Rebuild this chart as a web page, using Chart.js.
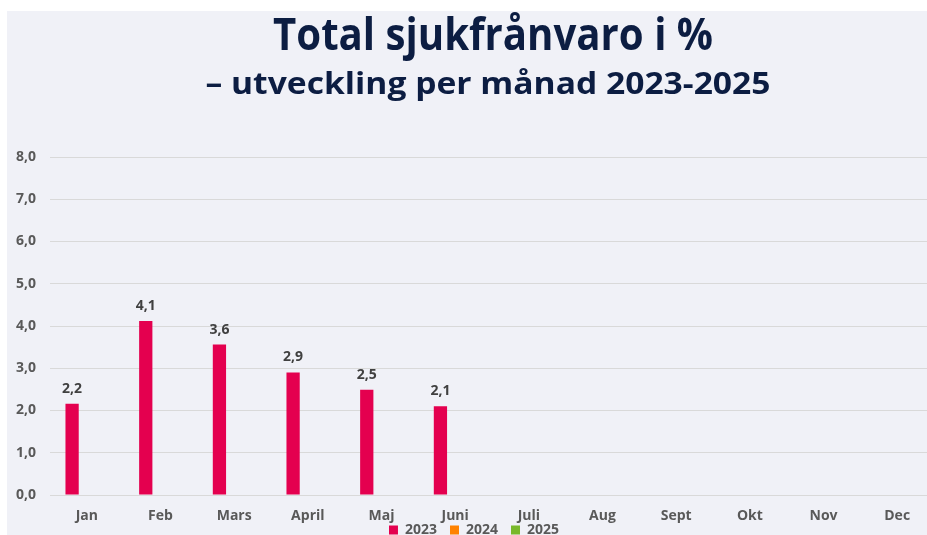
<!DOCTYPE html>
<html>
<head>
<meta charset="utf-8">
<script src="https://cdn.jsdelivr.net/npm/chart.js@4.4.1/dist/chart.umd.min.js"></script>
<style>
  html, body { margin: 0; padding: 0; background: #ffffff; overflow: hidden; }
  #wrap { position: absolute; left: 0; top: 0; width: 934px; height: 535px; }
</style>
</head>
<body>
<div id="wrap"><canvas id="sickChart"></canvas></div>
<script>
// data
const months = ['Jan', 'Feb', 'Mars', 'April', 'Maj', 'Juni', 'Juli', 'Aug', 'Sept', 'Okt', 'Nov', 'Dec'];
const years = ['2023', '2024', '2025'];
const values2023 = [2.16, 4.12, 3.56, 2.9, 2.49, 2.1, null, null, null, null, null, null];
const values2024 = [null, null, null, null, null, null, null, null, null, null, null, null];
const values2025 = [null, null, null, null, null, null, null, null, null, null, null, null];
const yTicks = [0, 1, 2, 3, 4, 5, 6, 7, 8];

const titleText = 'Total sjukfrånvaro i %';
const subtitleText = '– utveckling per månad 2023-2025';

const navy = '#0c1d42';
const labelGrey = '#595959';
const fmt = v => v.toFixed(1).replace('.', ',');

// draw text squeezed to a given width (title font is narrow)
function fittedText(ctx, text, cx, baseline, font, targetW) {
  ctx.save();
  ctx.font = font;
  const w = ctx.measureText(text).width;
  ctx.translate(cx, baseline);
  ctx.scale(targetW / w, 1);
  ctx.textAlign = 'center';
  ctx.textBaseline = 'alphabetic';
  ctx.fillStyle = navy;
  ctx.fillText(text, 0, 0);
  ctx.restore();
}

const panelPlugin = {
  id: 'panel',
  afterLayout(chart) {
    // x labels sit over the legend, so let the label area reach the bottom
    chart.scales.x.bottom = chart.height;
  },
  beforeDraw(chart) {
    const c = chart.ctx;
    c.save();
    c.fillStyle = '#ffffff';
    c.fillRect(0, 0, chart.width, chart.height);
    c.fillStyle = '#f0f1f7';
    c.fillRect(7, 11, chart.width, chart.height);
    c.restore();
  },
  afterDraw(chart) {
    const c = chart.ctx;
    fittedText(c, titleText, 493, 50, 'bold 44px "Liberation Sans Narrow", "Open Sans"', 440);
    fittedText(c, subtitleText, 488, 94, 'bold 31px "Liberation Sans Narrow", "Open Sans"', 565);
  }
};

const valueLabels = {
  id: 'valueLabels',
  afterDatasetsDraw(chart) {
    const c = chart.ctx;
    c.save();
    c.font = 'bold 14px "Open Sans"';
    c.fillStyle = '#404040';
    c.textAlign = 'center';
    c.textBaseline = 'alphabetic';
    chart.data.datasets.forEach((ds, i) => {
      chart.getDatasetMeta(i).data.forEach((bar, j) => {
        const v = ds.data[j];
        if (v === null || v === undefined) return;
        c.fillText(fmt(v), bar.x, bar.y - 11);
      });
    });
    c.restore();
  }
};

const ctx = document.getElementById('sickChart').getContext('2d');
new Chart(ctx, {
  type: 'bar',
  data: {
    labels: months,
    datasets: [
      { label: years[0], data: values2023, backgroundColor: '#e4004f' },
      { label: years[1], data: values2024, backgroundColor: '#ff8200' },
      { label: years[2], data: values2025, backgroundColor: '#78b82a' }
    ]
  },
  options: {
    responsive: true,
    maintainAspectRatio: false,
    animation: false,
    layout: { padding: { top: 157, left: 14, right: 0, bottom: 0 } },
    datasets: { bar: { categoryPercentage: 0.6, barPercentage: 0.9, borderWidth: 0 } },
    scales: {
      x: {
        grid: { display: false, drawTicks: false },
        border: { display: false },
        ticks: { color: labelGrey, font: { family: 'Open Sans', size: 14, weight: 'bold' }, padding: 13 },
        afterFit: s => { s.height = 15; }
      },
      y: {
        min: 0,
        max: 8,
        afterBuildTicks: s => { s.ticks = yTicks.map(v => ({ value: v })); },
        grid: { color: '#d9d9d9', drawTicks: false },
        border: { display: false },
        ticks: {
          color: labelGrey,
          font: { family: 'Open Sans', size: 14, weight: 'bold' },
          padding: 14,
          callback: v => fmt(v)
        },
        afterFit: s => { s.width = 36; }
      }
    },
    plugins: {
      tooltip: { enabled: false },
      legend: {
        position: 'bottom',
        maxHeight: 25,
        labels: {
          boxWidth: 9,
          boxHeight: 9,
          padding: 13,
          color: labelGrey,
          font: { family: 'Open Sans', size: 14, weight: 'bold' }
        }
      }
    }
  },
  plugins: [panelPlugin, valueLabels]
});
</script>
</body>
</html>
